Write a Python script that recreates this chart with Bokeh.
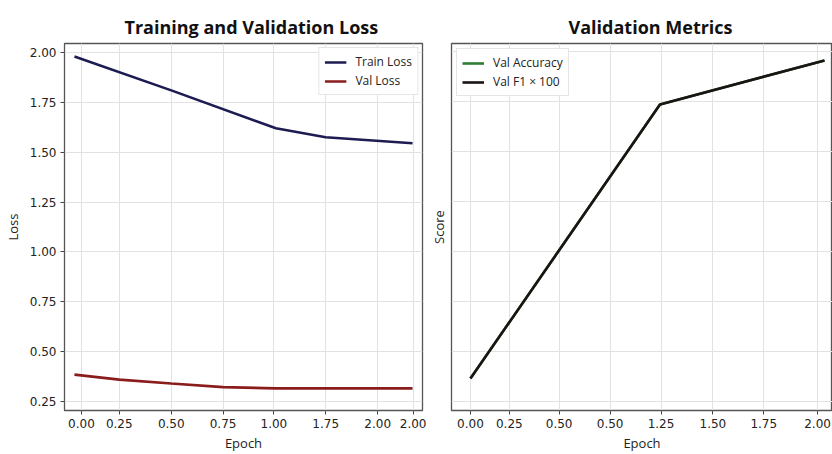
from bokeh.plotting import figure
from bokeh.layouts import row
from bokeh.models import FixedTicker, Legend, LegendItem, Range1d, CustomJSTickFormatter
from bokeh.embed import file_html
from bokeh.resources import INLINE

# ---- data (left panel) ----
loss_tick_pos = [0.0, 0.228, 0.541, 0.853, 1.159, 1.471, 1.784, 2.0]
loss_tick_labels = ["0.00", "0.25", "0.50", "0.75", "1.00", "1.75", "2.00", "2.00"]
loss_y_ticks = [0.25, 0.50, 0.75, 1.00, 1.25, 1.50, 1.75, 2.00]

train_epoch = [-0.042, 0.541, 1.171, 1.471, 1.994]
train_loss = [1.98, 1.81, 1.62, 1.575, 1.545]
val_epoch = [-0.042, 0.228, 0.541, 0.853, 1.171, 1.994]
val_loss = [0.385, 0.36, 0.34, 0.322, 0.316, 0.316]

# ---- data (right panel) ----
metric_tick_pos = [0.0, 0.224, 0.511, 0.805, 1.098, 1.397, 1.69, 2.0]
metric_tick_labels = ["0.00", "0.25", "0.50", "0.50", "1.25", "1.50", "1.75", "2.00"]
score_grid = [20, 30, 40, 50, 60, 70, 80, 90]

metric_epoch = [0.0, 1.092, 2.04]
val_accuracy = [24.6, 79.4, 88.2]
val_f1_x100 = [24.6, 79.4, 88.2]

TICK_FONT = "DejaVu Sans"
TEXT_FONT = "Open Sans"


def style(p, xticks, xlabels, yticks):
    p.title.text_font = TEXT_FONT
    p.title.text_font_size = "18px"
    p.title.text_font_style = "bold"
    p.title.align = "left"
    p.title.text_color = "#111111"
    p.title.standoff = 9
    p.outline_line_color = "#555555"
    p.outline_line_width = 1.3
    p.xaxis.ticker = FixedTicker(ticks=xticks)
    p.xaxis.major_label_overrides = {t: l for t, l in zip(xticks, xlabels)}
    p.yaxis.ticker = FixedTicker(ticks=yticks)
    for ax in (p.xaxis[0], p.yaxis[0]):
        ax.axis_line_color = None
        ax.major_tick_line_color = "#444444"
        ax.major_tick_out = 4
        ax.major_tick_in = 0
        ax.minor_tick_line_color = None
        ax.major_label_text_font = TICK_FONT
        ax.major_label_text_font_size = "12px"
        ax.major_label_text_color = "#222222"
        ax.major_label_standoff = 4
        ax.axis_label_text_font = TEXT_FONT
        ax.axis_label_text_font_size = "13px"
        ax.axis_label_text_font_style = "normal"
        ax.axis_label_text_color = "#222222"
        ax.axis_label_standoff = 3
    p.xgrid.grid_line_color = "#e2e2e2"
    p.ygrid.grid_line_color = "#e2e2e2"


def legend_style(lg):
    lg.label_text_font = TEXT_FONT
    lg.label_text_font_size = "12px"
    lg.label_text_color = "#222222"
    lg.label_height = 14
    lg.glyph_width = 22
    lg.glyph_height = 12
    lg.label_standoff = 9
    lg.padding = 5
    lg.spacing = 2
    lg.border_line_color = "#cccccc"
    lg.border_line_width = 1
    lg.background_fill_alpha = 0.95


# ---- left figure ----
p1 = figure(width=426, height=454, output_backend="svg", toolbar_location=None,
            title="Training and Validation Loss",
            x_range=Range1d(-0.102, 2.054), y_range=Range1d(0.205, 2.045),
            min_border_left=63, min_border_right=4, min_border_top=43, min_border_bottom=44)
style(p1, loss_tick_pos, loss_tick_labels, loss_y_ticks)
p1.title.offset = 60
p1.xaxis.axis_label = "Epoch"
p1.yaxis.axis_label = "Loss"
p1.yaxis.axis_label_standoff = 5
p1.yaxis.formatter = CustomJSTickFormatter(code="return tick.toFixed(2);")

r_train = p1.line(train_epoch, train_loss, line_color="#1c1c52", line_width=2.6)
r_val = p1.line(val_epoch, val_loss, line_color="#8b1c1c", line_width=2.6)
lg1 = Legend(items=[LegendItem(label="Train Loss", renderers=[r_train]),
                    LegendItem(label="Val Loss", renderers=[r_val])],
             location="top_right", margin=4)
legend_style(lg1)
p1.add_layout(lg1, "center")

# ---- right figure ----
p2 = figure(width=406, height=454, output_backend="svg", toolbar_location=None,
            title="Validation Metrics",
            x_range=Range1d(-0.109, 2.086), y_range=Range1d(18.2, 91.6),
            min_border_left=24, min_border_right=0, min_border_top=43, min_border_bottom=44)
style(p2, metric_tick_pos, metric_tick_labels, score_grid)
p2.title.offset = 117
p2.xaxis.axis_label = "Epoch"
p2.yaxis.axis_label = "Score"
p2.yaxis.major_label_overrides = {v: "" for v in score_grid}
p2.yaxis.major_tick_line_color = None
p2.yaxis.axis_label_standoff = 0

r_acc = p2.line(metric_epoch, val_accuracy, line_color="#2e7d32", line_width=2.6)
r_f1 = p2.line(metric_epoch, val_f1_x100, line_color="#1a1414", line_width=2.6)
lg2 = Legend(items=[LegendItem(label="Val Accuracy", renderers=[r_acc]),
                    LegendItem(label="Val F1 \u00d7 100", renderers=[r_f1])],
             location="top_left", margin=5)
legend_style(lg2)
p2.add_layout(lg2, "center")

layout = row(p1, p2)
open("out.html", "w").write(file_html(layout, INLINE))
